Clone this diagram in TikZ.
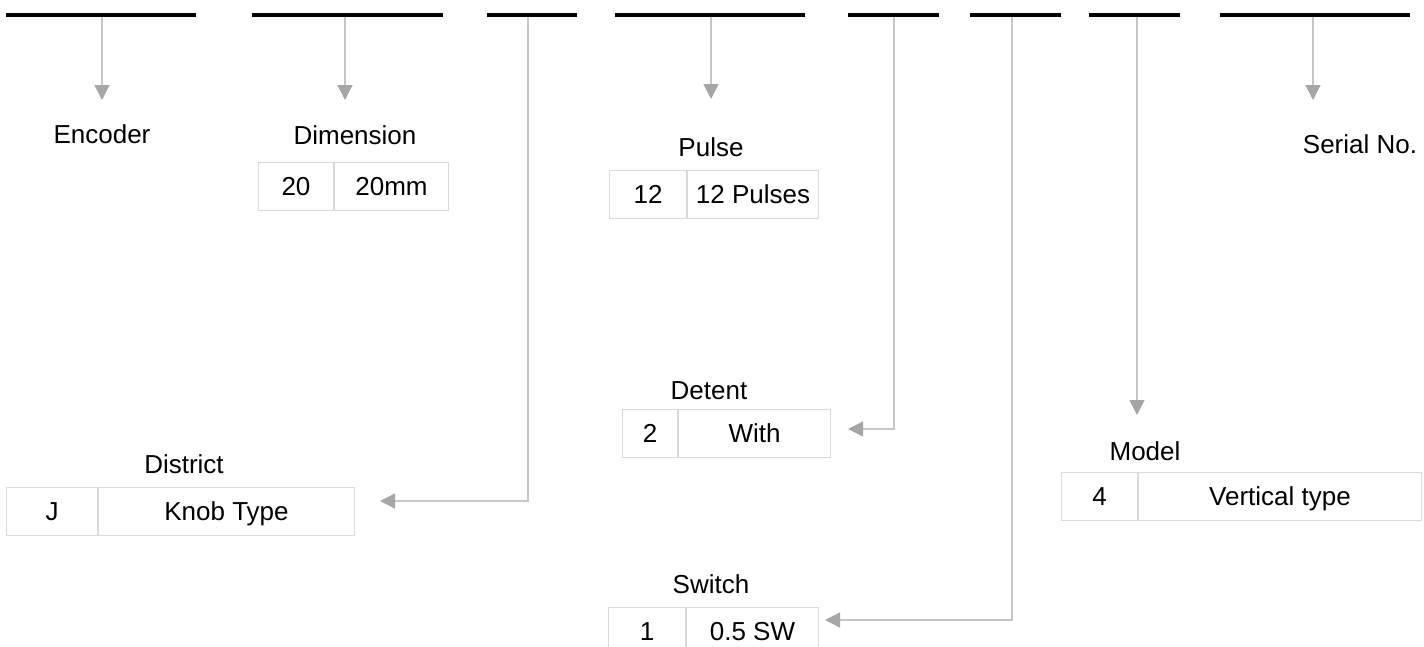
\documentclass[tikz,border=0pt]{standalone}
\usepackage{fontspec}
\setmainfont{Liberation Sans}
\usetikzlibrary{arrows.meta}
\definecolor{LGray}{HTML}{D9D9D9}
\definecolor{MGray}{HTML}{C6C6C6}
\definecolor{DGray}{HTML}{A6A6A6}
\tikzset{
    codebar/.style={fill=black, inner sep=0pt, minimum height=4.5, anchor=west},
    cell/.style={draw=LGray, line width=1, inner sep=0pt, minimum height=48,
        text height=18.5, text depth=0, anchor=north west},
    title/.style={inner sep=0pt, anchor=base},
    link/.style={MGray, line width=1.3, -{Triangle[width=15pt, length=15pt, color=DGray]}},
}
\NewDocumentCommand{\CodeBar}{m m m}{
    \node[codebar, minimum width=#3] (#1) at (#2,15) {};
}
\NewDocumentCommand{\CodeTable}{O{(0,0)} m m m m m}{
    \begin{scope}[shift={#1}, name prefix=#2-]
    \node[cell, minimum width=#5] (code) at (0,0) {#3};
    \node[cell, minimum width=#6] (value) at (code.north east) {#4};
    \end{scope}
}
\newcommand{\Canvas}{
\useasboundingbox (0,0) rectangle (1424,646);

% arrow tips
\coordinate (enc-tip) at (102,100);
\coordinate (dim-tip) at (345,100);
\coordinate (pulse-tip) at (711,99);
\coordinate (serial-tip) at (1313,100);
\coordinate (model-tip) at (1137,415);

% elbows
\coordinate (dist-corner) at (528,501);
\coordinate (dist-tip) at (380,501);
\coordinate (detent-corner) at (894,429);
\coordinate (detent-tip) at (848,429);
\coordinate (switch-corner) at (1012,620);
\coordinate (switch-tip) at (825,620);
}

\begin{document}
\begin{tikzpicture}[x=1pt, y=-1pt, font=\fontsize{26pt}{31pt}\selectfont]
\Canvas

\CodeBar{bar-enc}{6}{190}
\CodeBar{bar-dim}{252}{191}
\CodeBar{bar-dist}{487}{90}
\CodeBar{bar-pulse}{615}{190}
\CodeBar{bar-detent}{848}{91}
\CodeBar{bar-switch}{970}{91}
\CodeBar{bar-model}{1089}{91}
\CodeBar{bar-serial}{1220}{190}

\node[title] (enc) at (102,143) {Encoder};
\node[title] (dim) at (355,144) {Dimension};
\node[title] (pulse) at (711,156) {Pulse};
\node[title] (dist) at (184,473) {District};
\node[title] (detent) at (709,399) {Detent};
\node[title] (switch) at (711,593) {Switch};
\node[title] (model) at (1145,460) {Model};
\node[title] (serial) at (1360,153) {Serial No.};

\CodeTable[(258,162)]{dim}{20}{20mm}{75}{114}
\CodeTable[(609,170)]{pulse}{12}{12 Pulses}{77}{131}
\CodeTable[(6,487)]{dist}{J}{Knob Type}{91}{256}
\CodeTable[(622,409)]{detent}{2}{With}{55}{152}
\CodeTable[(608,607)]{switch}{1}{0.5 SW}{77}{132}
\CodeTable[(1061,472)]{model}{4}{Vertical type}{76}{283}

\draw[link] (enc-tip |- bar-enc.south) -- (enc-tip);
\draw[link] (dim-tip |- bar-dim.south) -- (dim-tip);
\draw[link] (pulse-tip |- bar-pulse.south) -- (pulse-tip);
\draw[link] (serial-tip |- bar-serial.south) -- (serial-tip);
\draw[link] (model-tip |- bar-model.south) -- (model-tip);
\draw[link] (dist-corner |- bar-dist.south) -- (dist-corner) -- (dist-tip);
\draw[link] (detent-corner |- bar-detent.south) -- (detent-corner) -- (detent-tip);
\draw[link] (switch-corner |- bar-switch.south) -- (switch-corner) -- (switch-tip);

\end{tikzpicture}
\end{document}
